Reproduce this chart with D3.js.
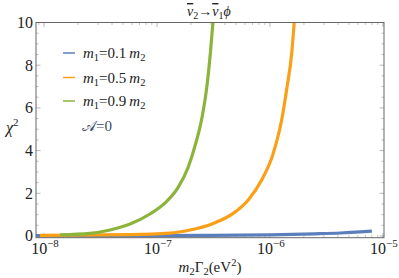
<!DOCTYPE html>
<html>
<head>
<meta charset="utf-8">
<script src="https://cdn.jsdelivr.net/npm/d3@7"></script>
<style>
  body { margin: 0; background: #fff; }
  svg text { font-family: "Liberation Serif", "DejaVu Serif", serif; }
</style>
</head>
<body>
<div id="chart"></div>
<script>
// data: x = m2*Gamma2 (eV^2), y = chi^2
var blueX = [8.5e-9, 1e-7, 3e-7, 1e-6, 2.5e-6, 4.2e-6, 6.3e-6, 8e-6];
var blueY = [0.02, 0.02, 0.03, 0.05, 0.10, 0.14, 0.19, 0.23];

var orangeX = [9.2e-9, 5.77e-8, 1.30e-7, 1.96e-7, 3.15e-7, 4.73e-7, 6.43e-7, 8.45e-7, 1.07e-6, 1.27e-6, 1.42e-6, 1.56e-6, 1.64e-6];
var orangeY = [0.03, 0.06, 0.13, 0.28, 0.59, 1.06, 1.69, 2.62, 3.87, 5.43, 7.0, 8.56, 10];

var greenX = [1.39e-8, 2.55e-8, 3.84e-8, 5.77e-8, 8.67e-8, 1.18e-7, 1.53e-7, 1.88e-7, 2.21e-7, 2.50e-7, 2.77e-7, 2.97e-7, 3.13e-7];
var greenY = [0.05, 0.12, 0.28, 0.56, 1.03, 1.55, 2.25, 3.19, 4.36, 5.53, 7.03, 8.57, 10];

var yTicks = [0, 2, 4, 6, 8, 10];
var xTickExp = [-8, -7, -6, -5];
var legendLabels = ["0.1", "0.5", "0.9"];
var colors = ["#5b7fbd", "#fa9f16", "#8cb43a"];

var W = 399, H = 278;
var pL = 36, pR = 384, pT = 22.5, pB = 237.7;

var svg = d3.select("#chart").append("svg")
    .attr("width", W)
    .attr("height", H);

var x = d3.scaleLog()
    .domain([Math.pow(10, -8.071), Math.pow(10, -4.99)])
    .range([pL, pR]);

var y = d3.scaleLinear()
    .domain([-0.08, 10])
    .range([pB, pT]);

svg.append("clipPath").attr("id", "clip")
  .append("rect")
    .attr("x", pL).attr("y", pT)
    .attr("width", pR - pL).attr("height", pB - pT);

// minor + major ticks on all four sides (inside the frame)
var tickCol = "#999";
var xMinor = [];
for (var e = -9; e <= -5; e++) {
  for (var k = 2; k <= 9; k++) {
    var v = k * Math.pow(10, e);
    if (v > x.domain()[0] && v < x.domain()[1]) xMinor.push(v);
  }
}
var xMajor = xTickExp.map(function(d) { return Math.pow(10, d); });

[pB, pT].forEach(function(yy) {
  var dir = yy == pB ? -1 : 1;
  svg.selectAll(null).data(xMinor).enter().append("line")
    .attr("x1", function(d) { return x(d); }).attr("x2", function(d) { return x(d); })
    .attr("y1", yy).attr("y2", yy + dir * 2.5)
    .attr("stroke", tickCol).attr("stroke-width", 0.6);
  svg.selectAll(null).data(xMajor).enter().append("line")
    .attr("x1", function(d) { return x(d); }).attr("x2", function(d) { return x(d); })
    .attr("y1", yy).attr("y2", yy + dir * 4.5)
    .attr("stroke", tickCol).attr("stroke-width", 0.7);
});

var yMinor = d3.range(0, 10.01, 0.5).filter(function(d) { return d % 2 != 0; });
[pL, pR].forEach(function(xx) {
  var dir = xx == pL ? 1 : -1;
  svg.selectAll(null).data(yMinor).enter().append("line")
    .attr("x1", xx).attr("x2", xx + dir * 2.5)
    .attr("y1", function(d) { return y(d); }).attr("y2", function(d) { return y(d); })
    .attr("stroke", tickCol).attr("stroke-width", 0.6);
  svg.selectAll(null).data(yTicks).enter().append("line")
    .attr("x1", xx).attr("x2", xx + dir * 4.5)
    .attr("y1", function(d) { return y(d); }).attr("y2", function(d) { return y(d); })
    .attr("stroke", tickCol).attr("stroke-width", 0.7);
});

// curves
var line = d3.line()
    .x(function(d) { return x(d[0]); })
    .y(function(d) { return y(d[1]); })
    .curve(d3.curveMonotoneX);

var series = [
  d3.zip(blueX, blueY),
  d3.zip(orangeX, orangeY),
  d3.zip(greenX, greenY)
];

svg.append("g").attr("clip-path", "url(#clip)")
  .selectAll("path")
  .data(series)
  .enter()
  .append("path")
    .attr("fill", "none")
    .attr("stroke", function(d, i) { return colors[i]; })
    .attr("stroke-width", 3.2)
    .attr("d", line);

// frame
svg.append("rect")
    .attr("x", pL).attr("y", pT)
    .attr("width", pR - pL).attr("height", pB - pT)
    .attr("fill", "none")
    .attr("stroke", "#666")
    .attr("stroke-width", 1);

// y tick labels
svg.selectAll("ylab")
  .data(yTicks)
  .enter()
  .append("text")
    .attr("x", pL - 3)
    .attr("y", function(d) { return y(d) + 5.5; })
    .attr("text-anchor", "end")
    .style("font-size", "16px")
    .attr("fill", "#222")
    .text(function(d) { return d; });

// x tick labels 10^n
var xl = svg.selectAll("xlab")
  .data(xTickExp)
  .enter()
  .append("text")
    .attr("x", function(d) { return x(Math.pow(10, d)) + 1; })
    .attr("y", 254)
    .attr("text-anchor", "middle")
    .style("font-size", "16px")
    .attr("fill", "#222");
xl.append("tspan").text("10");
xl.append("tspan")
    .attr("dy", -7)
    .style("font-size", "11px")
    .text(function(d) { return "\u2212" + (-d); });

// axis labels
var xt = svg.append("text")
    .attr("x", 210).attr("y", 272)
    .attr("text-anchor", "middle")
    .style("font-size", "15px")
    .attr("fill", "#222");
xt.append("tspan").style("font-style", "italic").text("m");
xt.append("tspan").attr("dy", 3).style("font-size", "10.5px").text("2");
xt.append("tspan").attr("dy", -3).text("\u0393");
xt.append("tspan").attr("dy", 3).style("font-size", "10.5px").text("2");
xt.append("tspan").attr("dy", -3).text("(eV");
xt.append("tspan").attr("dy", -6).style("font-size", "10.5px").text("2");
xt.append("tspan").attr("dy", 6).text(")");

var yt = svg.append("text")
    .attr("x", 6).attr("y", 133)
    .style("font-size", "16px")
    .attr("fill", "#222");
yt.append("tspan").style("font-style", "italic").text("\u03c7");
yt.append("tspan").attr("dy", -7).style("font-size", "11px").text("2");

// title
var tt = svg.append("text")
    .attr("x", 187).attr("y", 16)
    .style("font-size", "14px")
    .attr("fill", "#222");
tt.append("tspan").style("font-style", "italic").style("text-decoration", "overline").text("\u03bd");
tt.append("tspan").attr("dy", 3).style("font-size", "10px").text("2");
tt.append("tspan").attr("dy", -3).text("\u2192");
tt.append("tspan").style("font-style", "italic").style("text-decoration", "overline").text("\u03bd");
tt.append("tspan").attr("dy", 3).style("font-size", "10px").text("1");
tt.append("tspan").attr("dy", -3).style("font-style", "italic").text("\u03d5");

// legend
var legY = [53, 77.5, 101];
svg.selectAll("legline")
  .data(legendLabels)
  .enter()
  .append("line")
    .attr("x1", 63).attr("x2", 75)
    .attr("y1", function(d, i) { return legY[i]; })
    .attr("y2", function(d, i) { return legY[i]; })
    .attr("stroke", function(d, i) { return colors[i]; })
    .attr("stroke-width", 1.5);

var lt = svg.selectAll("legtext")
  .data(legendLabels)
  .enter()
  .append("text")
    .attr("x", 83)
    .attr("y", function(d, i) { return legY[i] + 5; })
    .style("font-size", "15px")
    .attr("fill", "#222");
lt.append("tspan").style("font-style", "italic").text("m");
lt.append("tspan").attr("dy", 3).style("font-size", "10.5px").text("1");
lt.append("tspan").attr("dy", -3).text(function(d) { return "=" + d + "\u2009"; });
lt.append("tspan").style("font-style", "italic").text("m");
lt.append("tspan").attr("dy", 3).style("font-size", "10.5px").text("2");

svg.append("text")
    .attr("x", 82).attr("y", 131)
    .style("font-size", "15px")
    .attr("fill", "#3a4a6b")
    .text("\ud835\udc9c=0");
</script>
</body>
</html>
